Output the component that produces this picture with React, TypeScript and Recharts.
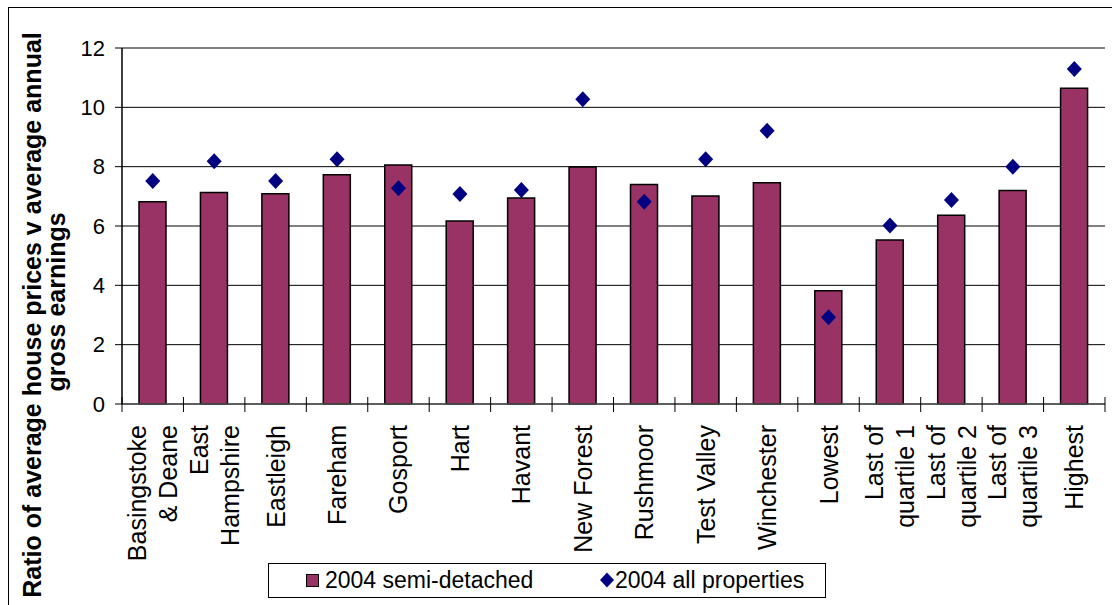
import React from 'react';
import { ComposedChart, Bar, Scatter, XAxis, YAxis, CartesianGrid, ReferenceLine } from 'recharts';

const categories = [
  'Basingstoke & Deane', 'East Hampshire', 'Eastleigh', 'Fareham', 'Gosport', 'Hart', 'Havant',
  'New Forest', 'Rushmoor', 'Test Valley', 'Winchester', 'Lowest', 'Last of quartile 1',
  'Last of quartile 2', 'Last of quartile 3', 'Highest',
];
const labelLines: string[][] = [
  ['Basingstoke', '& Deane'], ['East', 'Hampshire'], ['Eastleigh'], ['Fareham'], ['Gosport'], ['Hart'],
  ['Havant'], ['New Forest'], ['Rushmoor'], ['Test Valley'], ['Winchester'], ['Lowest'],
  ['Last of', 'quartile 1'], ['Last of', 'quartile 2'], ['Last of', 'quartile 3'], ['Highest'],
];
const semiDetached = [6.82, 7.13, 7.09, 7.73, 8.06, 6.17, 6.94, 7.99, 7.4, 7.01, 7.46, 3.82, 5.53, 6.36, 7.2, 10.64];
const allProperties = [7.52, 8.18, 7.52, 8.25, 7.27, 7.08, 7.21, 10.27, 6.82, 8.25, 9.21, 2.92, 6.02, 6.88, 8.0, 11.29];
const yTicks = [0, 2, 4, 6, 8, 10, 12];
const seriesNames = ['2004 semi-detached', '2004 all properties'];

const data = categories.map((c, i) => ({ name: c, semi: semiDetached[i], all: allProperties[i] }));

const FONT = '"Liberation Sans", Arial, sans-serif';
const BAR_COLOR = '#993366';
const DOT_COLOR = '#000080';

const W = 1112;
const H = 605;
const M = { top: 48, right: 7, left: 0, bottom: 0 };
const Y_AXIS_W = 122;
const X_AXIS_H = 201;
const BAND = (W - M.right - Y_AXIS_W) / categories.length;

const XTick = (props: any) => {
  const { x, y, index, payload } = props;
  const lines = labelLines[index] ?? [String(payload.value)];
  const n = lines.length;
  const last = index === categories.length - 1;
  return (
    <g>
      <line x1={x - BAND / 2} x2={x - BAND / 2} y1={y - 7} y2={y + 8} stroke="#000" strokeWidth={1} />
      {last && <line x1={x + BAND / 2} x2={x + BAND / 2} y1={y - 7} y2={y + 8} stroke="#000" strokeWidth={1} />}
      {lines.map((t, i) => {
        const tx = x + (i - (n - 1) / 2) * 31 + 9;
        const ty = y + 21;
        return (
          <text key={i} x={tx} y={ty} transform={`rotate(-90, ${tx}, ${ty})`} textAnchor="end"
            fontFamily={FONT} fontSize={25} fill="#000">{t}</text>
        );
      })}
    </g>
  );
};

const Diamond = (props: any) => {
  const { cx, cy } = props;
  if (cx == null || cy == null) return null;
  const hw = 7.5, hh = 8;
  return <polygon points={`${cx},${cy - hh} ${cx + hw},${cy} ${cx},${cy + hh} ${cx - hw},${cy}`} fill={DOT_COLOR} />;
};

export default function App() {
  return (
    <div style={{ position: 'absolute', left: 0, top: 0, width: W, height: H, overflow: 'hidden', background: '#fff' }}>
      <div style={{ position: 'absolute', left: 8, top: 7, width: 1300, height: 800, border: '1px solid #000', boxSizing: 'border-box' }} />
      <div style={{ position: 'absolute', left: 0, top: 0 }}>
        <ComposedChart width={W} height={H} data={data} margin={M}>
          <CartesianGrid vertical={false} stroke="#000" strokeWidth={1} />
          <ReferenceLine y={12} stroke="#808080" strokeWidth={2} />
          <XAxis dataKey="name" interval={0} height={X_AXIS_H} tick={<XTick />} tickLine={false}
            tickSize={0} tickMargin={0} axisLine={{ stroke: '#555', strokeWidth: 1.5 }} />
          <YAxis domain={[0, 12]} ticks={yTicks} width={Y_AXIS_W} tickSize={7} tickMargin={10}
            axisLine={{ stroke: '#000', strokeWidth: 1.5 }} tickLine={{ stroke: '#000' }}
            tick={{ fontFamily: FONT, fontSize: 22, fill: '#000' }} interval={0} />
          <YAxis yAxisId="right" orientation="right" domain={[0, 12]} width={0} tick={false} tickLine={false}
            axisLine={{ stroke: '#808080', strokeWidth: 2 }} />
          <Bar dataKey="semi" name={seriesNames[0]} fill={BAR_COLOR} stroke="#000" strokeWidth={1.5} barSize={27} isAnimationActive={false} />
          <Scatter dataKey="all" name={seriesNames[1]} shape={<Diamond />} isAnimationActive={false} />
        </ComposedChart>
      </div>
      <svg width={W} height={H} style={{ position: 'absolute', left: 0, top: 0, pointerEvents: 'none' }}>
        <text x={41} y={315} transform="rotate(-90, 41, 315)" textAnchor="middle" fontFamily={FONT} fontWeight="bold" fontSize={25} fill="#000">
          Ratio of average house prices v average annual
        </text>
        <text x={65} y={302} transform="rotate(-90, 65, 302)" textAnchor="middle" fontFamily={FONT} fontWeight="bold" fontSize={25} fill="#000">
          gross earnings
        </text>
        <rect x={268.5} y={563.5} width={557} height={34} fill="#fff" stroke="#000" strokeWidth={1} />
        <rect x={306.5} y={574.5} width={12} height={12} fill={BAR_COLOR} stroke="#000" strokeWidth={1} />
        <text x={325} y={588} fontFamily={FONT} fontSize={23} fill="#000">{seriesNames[0]}</text>
        <polygon points="607,572.5 614,580 607,587.5 600,580" fill={DOT_COLOR} />
        <text x={615} y={588} fontFamily={FONT} fontSize={23} fill="#000">{seriesNames[1]}</text>
      </svg>
    </div>
  );
}
